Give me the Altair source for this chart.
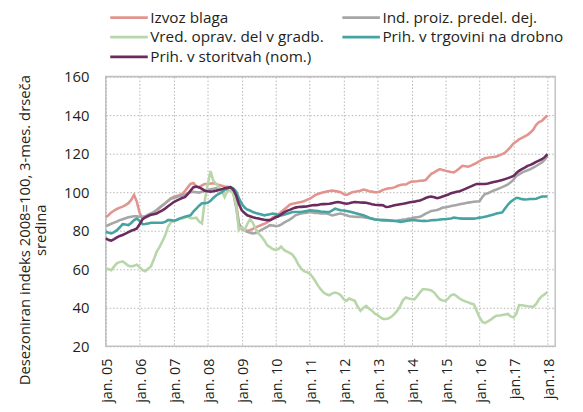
import altair as alt
import pandas as pd

# Monthly observations, Jan 2005 .. Jan 2018
dates = pd.date_range("2005-01-01", "2018-01-01", freq="MS").strftime("%Y-%m-%d").tolist()

series_names = [
    "Izvoz blaga",
    "Ind. proiz. predel. dej.",
    "Vred. oprav. del v gradb.",
    "Prih. v trgovini na drobno",
    "Prih. v storitvah (nom.)",
]
series_colors = ["#e2958f", "#a6a6a6", "#b8d6aa", "#45a3a1", "#6c2b5e"]

izvoz = [
    87.0, 88.2, 89.5, 90.5, 91.3, 92.0, 92.5, 93.3, 94.3, 96.0, 98.6, 95.0,
    89.0, 86.3, 86.8, 87.5, 88.5, 89.7, 90.5, 91.8, 93.0, 94.2, 95.5, 96.8,
    97.5, 98.0, 98.5, 99.1, 100.5, 102.5, 104.3, 104.8, 103.0, 102.6, 103.5, 104.3,
    104.3, 104.5, 104.6, 104.2, 103.8, 103.4, 103.0, 102.8, 102.6, 100.0, 95.0, 84.0,
    81.0, 80.3, 80.0, 80.3, 81.0, 81.7, 82.4, 83.0, 83.6, 84.3, 85.5, 87.0,
    87.5, 88.5, 89.8, 91.0, 92.2, 93.5, 94.0, 94.3, 94.6, 94.9, 95.3, 96.0,
    96.6, 97.5, 98.5, 99.1, 99.6, 100.0, 100.3, 100.6, 100.9, 100.6, 100.3, 100.0,
    99.0, 98.6, 99.2, 100.0, 100.2, 100.5, 100.8, 101.4, 101.0, 100.5, 100.3, 100.0,
    100.0, 100.5, 101.2, 101.7, 102.0, 102.2, 102.5, 103.2, 103.8, 104.0, 104.0, 104.8,
    105.5, 105.6, 105.7, 105.9, 106.0, 106.3, 108.0, 109.5, 110.3, 111.2, 112.0, 111.5,
    111.1, 110.8, 110.5, 110.3, 111.3, 112.5, 113.7, 113.5, 113.2, 113.8, 114.5, 115.2,
    116.2, 117.0, 117.6, 117.9, 118.1, 118.3, 118.5, 119.2, 119.8, 120.5, 122.0, 123.5,
    125.3, 126.3, 127.4, 128.2, 129.0, 129.8, 131.0, 132.5, 135.0, 136.4, 137.0, 138.5,
    139.8,
]

ind_proiz = [
    82.4, 83.0, 83.6, 84.2, 84.8, 85.5, 86.0, 86.5, 87.0, 87.3, 87.5, 87.5,
    87.3, 87.2, 87.5, 88.3, 89.0, 89.7, 90.8, 92.0, 93.2, 94.3, 95.5, 96.6,
    97.0, 97.5, 98.0, 98.3, 98.8, 99.4, 100.0, 100.2, 100.0, 99.8, 100.2, 100.8,
    101.2, 101.5, 101.8, 102.0, 101.5, 101.0, 101.5, 102.0, 102.5, 100.0, 92.3, 83.5,
    81.2, 80.0, 79.5, 79.0, 78.6, 78.8, 79.5, 80.5, 81.2, 82.0, 82.9, 82.7,
    82.4, 82.6, 83.2, 84.2, 85.0, 85.8, 86.8, 88.0, 88.5, 88.9, 89.2, 89.4,
    89.7, 89.5, 89.2, 89.2, 89.0, 88.9, 88.9, 88.5, 87.9, 88.3, 88.7, 88.9,
    88.5, 88.0, 87.5, 87.4, 87.3, 87.2, 87.2, 87.0, 86.7, 86.5, 86.3, 86.0,
    85.8, 85.5, 85.5, 85.3, 85.2, 85.1, 85.2, 85.3, 85.5, 85.8, 86.0, 86.3,
    86.5, 86.8, 87.0, 87.2, 88.0, 88.9, 89.5, 90.3, 90.5, 90.8, 91.3, 92.0,
    92.2, 92.5, 92.8, 93.1, 93.4, 93.7, 94.0, 94.3, 94.6, 94.8, 95.0, 95.2,
    95.3, 97.5, 99.1, 99.5, 100.2, 100.9, 101.4, 102.0, 102.6, 103.3, 104.0, 105.1,
    106.5, 108.5, 109.3, 110.2, 110.8, 111.4, 112.0, 112.8, 113.6, 114.5, 115.4, 116.8,
    118.8,
]

gradb = [
    60.5, 60.0, 59.5, 61.5, 63.2, 63.7, 64.1, 63.0, 61.8, 61.5, 61.8, 62.4,
    61.0, 59.5, 59.0, 60.3, 61.5, 65.0, 69.0, 71.5, 74.5, 77.5, 82.0, 84.3,
    85.0, 85.6, 86.0, 86.3, 86.8, 87.2, 86.5, 86.5, 86.8, 84.8, 83.8, 95.7,
    104.0, 111.0, 106.0, 104.3, 102.5, 100.5, 97.4, 100.9, 100.5, 99.5, 94.0, 80.3,
    82.0, 80.3, 83.5, 86.0, 84.0, 81.0, 78.5, 77.0, 75.0, 72.5, 71.5, 70.5,
    70.0, 70.5, 71.8, 70.0, 69.2, 68.5, 67.5, 65.5, 62.4, 60.5, 59.0, 58.5,
    57.8, 56.0, 54.0, 51.5, 49.5, 47.9, 47.0, 46.5, 47.5, 47.9, 47.5, 46.5,
    44.5, 43.6, 44.8, 44.2, 43.6, 40.5, 38.5, 40.0, 41.0, 39.5, 38.5, 37.0,
    36.2, 35.0, 34.2, 34.2, 34.5, 35.5, 36.8, 38.5, 41.0, 44.0, 45.3, 44.8,
    44.6, 44.4, 46.0, 48.0, 49.6, 49.6, 49.4, 49.0, 47.9, 46.0, 44.4, 43.8,
    43.6, 45.0, 46.5, 47.0, 46.0, 44.8, 44.0, 43.3, 42.8, 42.2, 41.8, 38.5,
    35.0, 32.6, 32.1, 33.0, 33.8, 35.0, 35.9, 36.0, 36.2, 36.5, 36.8, 35.5,
    35.0, 37.0, 41.4, 41.3, 41.0, 40.8, 40.7, 40.5, 42.0, 44.4, 46.0, 47.0,
    48.2,
]

trgovina = [
    79.5, 79.0, 78.6, 79.3, 80.3, 81.8, 83.4, 83.2, 82.9, 84.0, 85.5, 86.3,
    85.0, 83.4, 83.5, 83.8, 84.1, 84.1, 84.1, 84.1, 84.1, 84.6, 85.5, 85.5,
    85.2, 85.6, 86.3, 86.8, 87.3, 87.7, 88.0, 90.0, 91.5, 93.0, 94.3, 94.3,
    94.5, 95.5, 97.0, 98.3, 99.2, 100.0, 101.2, 101.8, 102.6, 102.0, 100.5, 97.0,
    94.0, 92.0, 91.0, 90.5, 89.7, 89.2, 88.8, 88.4, 88.0, 88.3, 88.6, 88.9,
    88.6, 88.3, 88.0, 88.3, 88.8, 89.2, 89.7, 89.7, 89.7, 89.7, 90.0, 90.3,
    90.6, 90.5, 90.4, 90.2, 90.0, 89.9, 89.7, 89.7, 90.5, 91.5, 91.0, 90.6,
    90.5, 90.3, 90.0, 89.6, 89.2, 88.8, 88.4, 88.0, 87.4, 86.8, 86.2, 85.8,
    85.7, 85.6, 85.5, 85.5, 85.4, 85.3, 85.1, 84.9, 84.6, 84.8, 85.1, 85.3,
    85.5, 85.4, 85.3, 85.2, 85.1, 85.1, 85.2, 85.4, 85.5, 85.6, 85.8, 86.0,
    86.0, 86.2, 86.4, 86.8, 86.6, 86.4, 86.3, 86.3, 86.3, 86.3, 86.3, 86.5,
    86.8, 87.0, 87.3, 87.6, 88.0, 88.4, 88.9, 89.2, 89.5, 91.5, 93.5, 95.0,
    96.1, 97.1, 96.8, 96.4, 96.2, 96.3, 96.5, 96.5, 96.6, 97.2, 97.8, 97.8,
    97.8,
]

storitve = [
    76.1, 75.2, 74.9, 75.6, 76.5, 77.3, 77.8, 78.5, 79.3, 80.0, 80.5, 81.2,
    83.5, 86.0, 87.0, 87.7, 88.3, 88.6, 88.9, 89.8, 90.6, 91.5, 92.7, 93.8,
    94.9, 95.6, 96.3, 97.0, 97.4, 99.0, 100.8, 102.6, 102.9, 102.5, 101.7, 100.8,
    100.5, 100.3, 100.5, 100.8, 101.2, 101.6, 102.0, 102.3, 102.6, 101.5, 98.5, 94.0,
    90.6, 89.2, 88.0, 87.5, 87.0, 86.6, 86.3, 86.0, 85.7, 85.5, 85.5, 86.2,
    87.0, 87.5, 88.5, 89.5, 90.3, 90.8, 91.5, 92.0, 92.3, 92.4, 92.5, 92.6,
    93.0, 93.2, 93.3, 93.4, 93.7, 93.8, 93.9, 94.0, 94.3, 94.6, 94.9, 94.6,
    94.3, 94.0, 94.3, 94.7, 94.9, 94.8, 94.7, 94.6, 94.5, 94.2, 93.8, 93.5,
    93.4, 93.3, 93.2, 92.3, 92.5, 92.8, 93.2, 93.5, 93.8, 94.0, 94.3, 94.6,
    94.9, 95.1, 95.4, 95.7, 96.3, 97.0, 97.5, 97.8, 97.4, 96.9, 97.3, 97.8,
    98.3, 98.8, 99.5, 99.9, 100.2, 100.5, 101.1, 101.7, 102.4, 103.0, 103.7, 104.3,
    104.3, 104.3, 104.3, 104.5, 104.9, 105.3, 105.6, 105.9, 106.3, 106.8, 107.3, 107.8,
    108.5, 110.0, 111.1, 112.0, 112.8, 113.7, 114.2, 114.9, 115.7, 116.4, 117.1, 118.2,
    119.7,
]

y_ticks = [20, 40, 60, 80, 100, 120, 140, 160]
x_tick_years = list(range(2005, 2019))

rows = []
for name, vals in zip(series_names, [izvoz, ind_proiz, gradb, trgovina, storitve]):
    for d, v in zip(dates, vals):
        rows.append({"date": d, "series": name, "value": v})
df = pd.DataFrame(rows)

FONT = "Open Sans"
TXT = "#231f20"

chart = (
    alt.Chart(df)
    .mark_line(strokeWidth=2.6)
    .encode(
        x=alt.X(
            "date:T",
            scale=alt.Scale(
                type="utc",
                domain=[
                    alt.DateTime(year=2005, month=1, date=1, utc=True),
                    alt.DateTime(year=2018, month=3, date=25, utc=True),
                ],
            ),
            axis=alt.Axis(
                title=None,
                values=[alt.DateTime(year=y, month=1, date=1, utc=True) for y in x_tick_years],
                labelExpr="'jan.' + (utcyear(datum.value) >= 2017 ? '' : ' ') + utcFormat(datum.value, '%y')",
                labelAngle=-90,
                labelPadding=12,
                labelOffset=2,
                labelFontSize=14.5,
                labelColor=TXT,
                labelFont=FONT,
                ticks=False,
                tickSize=0,
                domain=False,
                grid=True,
                gridDash=[1.5, 2],
                gridColor="#b5b5b5",
                gridWidth=1,
                labelOverlap=False,
            ),
        ),
        y=alt.Y(
            "value:Q",
            scale=alt.Scale(domain=[20, 160], nice=False, zero=False),
            axis=alt.Axis(
                values=y_ticks,
                title=["Desezoniran indeks 2008=100, 3-mes. drseča", "sredina"],
                titleX=-77,
                titleY=155,
                titleAlign="center",
                titleBaseline="alphabetic",
                titleLineHeight=16,
                titleFontSize=15,
                titleFontWeight="normal",
                titleFont=FONT,
                titleColor=TXT,
                labelFontSize=15,
                labelFont=FONT,
                labelColor=TXT,
                labelPadding=17,
                ticks=False,
                tickSize=0,
                domain=False,
                grid=True,
                gridDash=[1.5, 2],
                gridColor="#b5b5b5",
                gridWidth=1,
            ),
        ),
        color=alt.Color(
            "series:N",
            title=None,
            scale=alt.Scale(domain=series_names, range=series_colors),
            legend=alt.Legend(
                orient="none",
                direction="horizontal",
                legendX=12.5,
                legendY=-71,
                columns=2,
                symbolType="M-2,0H2",
                symbolSize=361,
                symbolStrokeWidth=3,
                labelFontSize=15.5,
                labelFont=FONT,
                labelColor=TXT,
                labelLimit=400,
                labelOffset=10.5,
                columnPadding=12,
                rowPadding=-3,
                padding=0,
            ),
        ),
    )
    .properties(
        width=455,
        height=273,
        autosize=alt.AutoSizeParams(type="none"),
        padding={"left": 99, "top": 67, "right": 20, "bottom": 62},
    )
    .configure(font=FONT)
    .configure_view(stroke="#c4c4c4", strokeWidth=1.6)
)

chart.save("out.html", embed_options={"renderer": "svg", "actions": False})
